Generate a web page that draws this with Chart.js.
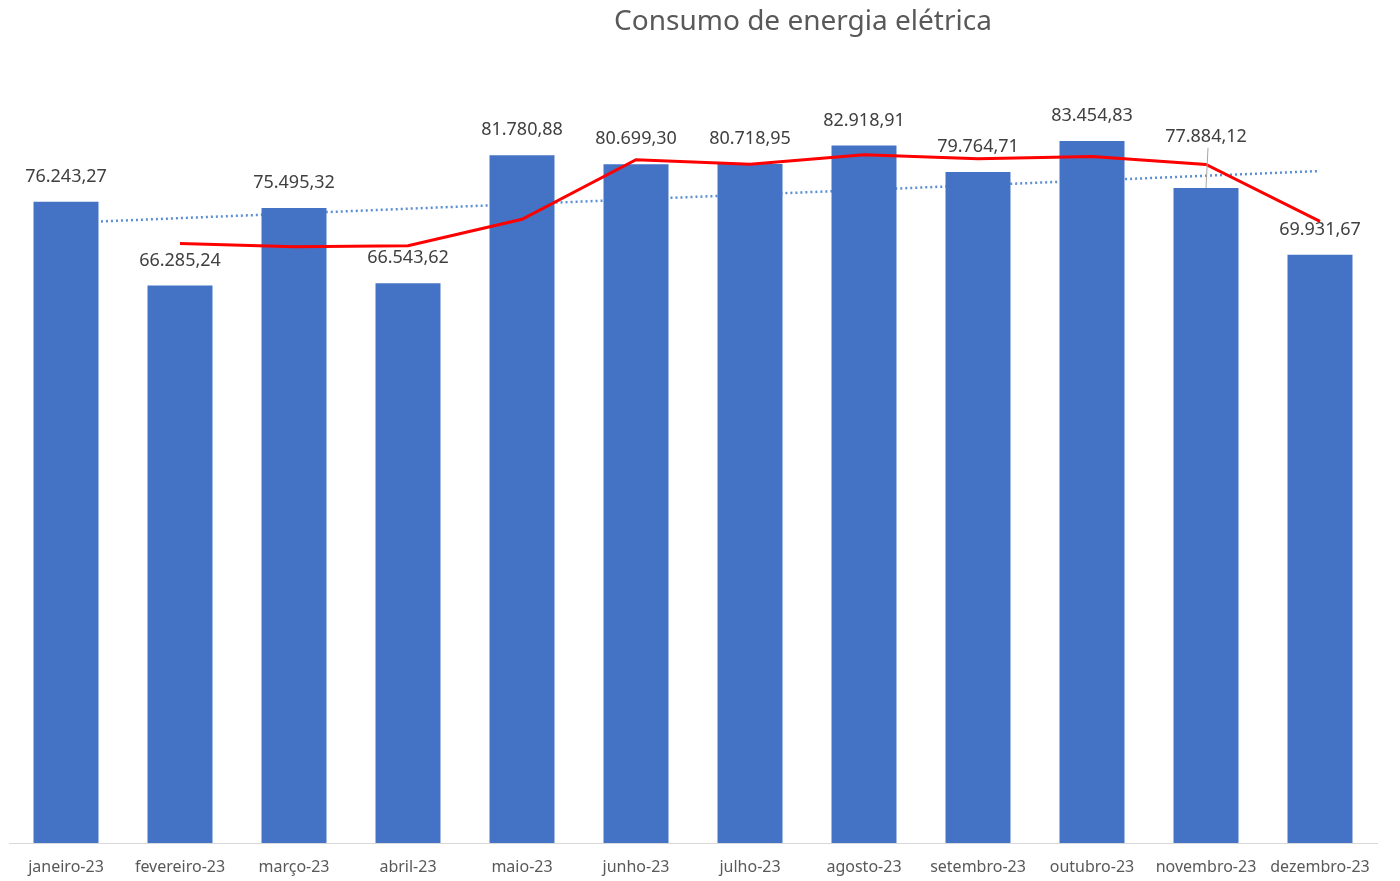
<!DOCTYPE html>
<html>
<head>
<meta charset="utf-8">
<script src="https://cdn.jsdelivr.net/npm/chart.js@4"></script>
<style>
  html, body { margin: 0; padding: 0; background: #fff; }
  #wrap { width: 1400px; height: 881px; }
</style>
</head>
<body>
<div id="wrap"><canvas id="consumo_chart"></canvas></div>
<script>
const titulo = 'Consumo de energia elétrica';
const meses = ['janeiro-23', 'fevereiro-23', 'março-23', 'abril-23', 'maio-23', 'junho-23',
    'julho-23', 'agosto-23', 'setembro-23', 'outubro-23', 'novembro-23', 'dezembro-23'];
const consumo = [76243.27, 66285.24, 75495.32, 66543.62, 81780.88, 80699.30,
    80718.95, 82918.91, 79764.71, 83454.83, 77884.12, 69931.67];
// média móvel de 2 períodos (linha vermelha)
const mediaMovel = [null, 71264, 70890, 71019, 74162, 81240,
    80709, 81819, 81342, 81610, 80669, 73908];
// linha de tendência linear (pontilhada)
const tendencia = [73729, 74289, 74849, 75409, 75970, 76530,
    77090, 77650, 78210, 78770, 79331, 79891];

document.addEventListener('DOMContentLoaded', function () {
    const ctx = document.getElementById('consumo_chart').getContext('2d');

    function formatBR(v) {
        const parts = v.toFixed(2).split('.');
        parts[0] = parts[0].replace(/\B(?=(\d{3})+(?!\d))/g, '.');
        return parts[0] + ',' + parts[1];
    }

    // título um pouco deslocado à direita, como no original
    const tituloPlugin = {
        id: 'tituloPlugin',
        afterDraw(chart) {
            const c = chart.ctx;
            c.save();
            c.font = '28px "Noto Sans"';
            c.fillStyle = '#595959';
            c.textAlign = 'center';
            c.textBaseline = 'middle';
            c.fillText(titulo, 803, 22);
            c.restore();
        }
    };

    // rótulos de dados acima das barras
    const rotulos = {
        id: 'rotulos',
        afterDatasetsDraw(chart) {
            const meta = chart.getDatasetMeta(0);
            const c = chart.ctx;
            c.save();
            c.font = '18px "Noto Sans"';
            c.fillStyle = '#404040';
            c.textAlign = 'center';
            c.textBaseline = 'middle';
            meta.data.forEach((bar, i) => {
                let lift = 25;
                if (i === 10) {
                    lift = 51;
                    c.strokeStyle = '#a6a6a6';
                    c.lineWidth = 1;
                    c.beginPath();
                    c.moveTo(bar.x + 2, bar.y - 40);
                    c.lineTo(bar.x, bar.y);
                    c.stroke();
                }
                c.fillText(formatBR(consumo[i]), bar.x, bar.y - lift);
            });
            c.restore();
        }
    };

    new Chart(ctx, {
        type: 'bar',
        data: {
            labels: meses,
            datasets: [
                {
                    label: 'Consumo',
                    data: consumo,
                    backgroundColor: '#4472C4',
                    barPercentage: 0.57,
                    categoryPercentage: 1,
                    order: 2
                },
                {
                    type: 'line',
                    label: 'Média móvel',
                    data: mediaMovel,
                    borderColor: '#FF0000',
                    borderWidth: 3,
                    pointRadius: 0,
                    tension: 0,
                    spanGaps: false,
                    order: 1
                },
                {
                    type: 'line',
                    label: 'Tendência',
                    data: tendencia,
                    borderColor: '#5B8FD5',
                    borderWidth: 2.5,
                    borderDash: [2, 3],
                    pointRadius: 0,
                    order: 3
                }
            ]
        },
        options: {
            responsive: true,
            maintainAspectRatio: false,
            animation: false,
            layout: {
                padding: { left: 9, right: 23, top: 86, bottom: 0 }
            },
            plugins: {
                legend: { display: false },
                tooltip: { enabled: false },
                title: { display: false }
            },
            scales: {
                x: {
                    grid: { display: false, drawTicks: false },
                    border: { display: true, color: '#d9d9d9', width: 1 },
                    ticks: {
                        color: '#595959',
                        font: { family: '"Noto Sans"', size: 16 },
                        padding: 15,
                        maxRotation: 0,
                        autoSkip: false
                    },
                    afterFit: function (scale) {
                        scale.height = 38;
                    }
                },
                y: {
                    display: false,
                    min: 0,
                    max: 90000
                }
            }
        },
        plugins: [rotulos, tituloPlugin]
    });
});
</script>
</body>
</html>
